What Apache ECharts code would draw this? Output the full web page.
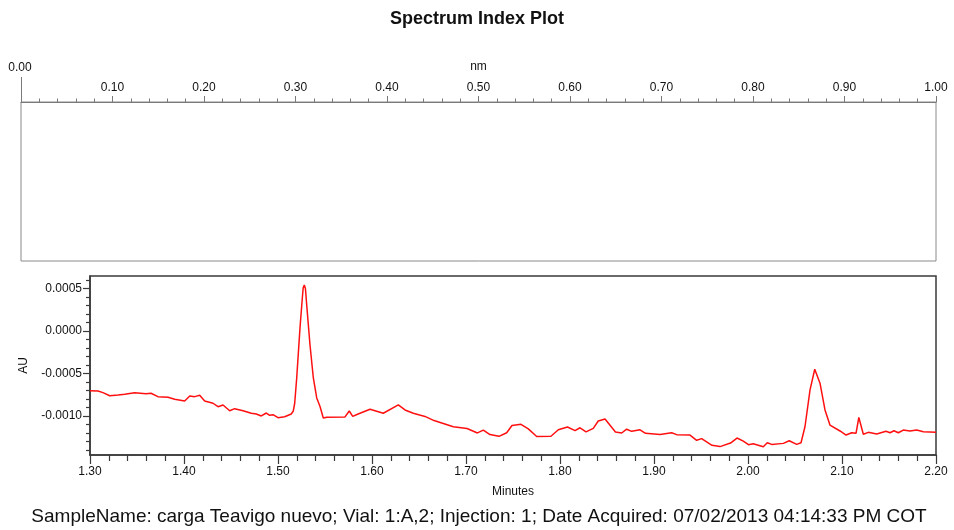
<!DOCTYPE html>
<html>
<head>
<meta charset="utf-8">
<script src="https://cdn.jsdelivr.net/npm/echarts@6/dist/echarts.min.js"></script>
<style>
html,body{margin:0;padding:0;background:#fff;}
#chart{width:954px;height:530px;}
</style>
</head>
<body>
<div id="chart"></div>
<script>
// Retention times (minutes)
const times = [1.300,1.3085,1.3138,1.3210,1.3298,1.3369,1.3476,1.3596,1.3649,1.3723,
1.3830,1.3901,1.4007,1.4061,1.4114,1.4167,1.4220,1.4309,1.4362,1.4415,
1.4486,1.4539,1.4628,1.4716,1.4769,1.4787,1.4822,1.4876,1.4912,1.4947,
1.5000,1.5071,1.5141,1.5163,1.5178,1.5199,1.5234,1.5259,1.5268,1.5280,
1.5292,1.5305,1.5340,1.5376,1.5412,1.5447,1.5482,1.5518,1.5713,1.5758,
1.5795,1.5846,1.5979,1.6120,1.6280,1.6351,1.6439,1.6564,1.6660,1.6865,
1.7011,1.7122,1.7184,1.7255,1.7351,1.7433,1.7489,1.7585,1.7663,1.7752,
1.7904,1.7982,1.8080,1.8160,1.8213,1.8277,1.8354,1.8407,1.8479,1.8590,
1.8656,1.8709,1.8763,1.8851,1.8910,1.9064,1.9188,1.9241,1.9383,1.9454,
1.9507,1.9617,1.9702,1.9814,1.9883,1.9950,2.0005,2.0056,2.0163,2.0205,
2.0252,2.0376,2.0439,2.0518,2.0564,2.0606,2.0660,2.0710,2.0766,2.0819,
2.0872,2.0979,2.1043,2.1103,2.1149,2.1179,2.1227,2.1280,2.1369,2.1468,
2.1511,2.1553,2.1599,2.1652,2.1723,2.1795,2.1865,2.2000];

// Absorbance (AU)
const au = [-0.000702,-0.000705,-0.000725,-0.000761,-0.000752,-0.000744,-0.000725,-0.000737,-0.000732,-0.000772,
-0.000780,-0.000803,-0.000823,-0.000764,-0.000772,-0.000756,-0.000823,-0.000850,-0.000891,-0.000870,
-0.000938,-0.000914,-0.000938,-0.000968,-0.000977,-0.000957,-0.001000,-0.000965,-0.000992,-0.000985,
-0.001020,-0.001009,-0.000977,-0.000941,-0.000847,-0.000552,0.000039,0.000393,0.000510,0.000543,
0.000500,0.000314,-0.000158,-0.000552,-0.000788,-0.000888,-0.001024,-0.001016,-0.001011,-0.000941,
-0.001004,-0.000979,-0.000921,-0.000968,-0.000870,-0.000929,-0.000968,-0.001005,-0.001054,-0.001127,
-0.001148,-0.001200,-0.001166,-0.001219,-0.001240,-0.001198,-0.001113,-0.001098,-0.001152,-0.001242,
-0.001239,-0.001162,-0.001130,-0.001172,-0.001139,-0.001187,-0.001146,-0.001059,-0.001036,-0.001189,
-0.001201,-0.001156,-0.001181,-0.001163,-0.001205,-0.001219,-0.001198,-0.001220,-0.001225,-0.001287,
-0.001267,-0.001346,-0.001361,-0.001319,-0.001260,-0.001296,-0.001338,-0.001328,-0.001363,-0.001316,
-0.001335,-0.001323,-0.001292,-0.001335,-0.001316,-0.001127,-0.000693,-0.000449,-0.000614,-0.000929,
-0.001107,-0.001177,-0.001225,-0.001198,-0.001205,-0.001018,-0.001216,-0.001193,-0.001213,-0.001181,
-0.001198,-0.001174,-0.001198,-0.001166,-0.001178,-0.001166,-0.001186,-0.001193];

// Tick labels / positions
const auMajorTicks = [-0.0010, -0.0005, 0.0000, 0.0005];
const auMinorTicks = [-0.0014,-0.0013,-0.0012,-0.0011,-0.0009,-0.0008,-0.0007,-0.0006,-0.0004,-0.0003,-0.0002,-0.0001,0.0001,0.0002,0.0003,0.0004,0.0006];
const auRange = [-0.00146, 0.00065];
const minuteRange = [1.30, 2.20];
const nmRange = [0.00, 1.00];

const titleText = 'Spectrum Index Plot';
const footerText = 'SampleName: carga Teavigo nuevo; Vial: 1:A,2; Injection: 1; Date Acquired: 07/02/2013 04:14:33 PM COT';

const FONT = 'Liberation Sans, Arial, sans-serif';
const chart = echarts.init(document.getElementById('chart'), null, {renderer: 'canvas'});

const points = times.map((t, i) => [t, au[i]]);

const option = {
  animation: false,
  backgroundColor: '#ffffff',
  title: [{
    text: titleText, left: 'center', top: 5,
    textStyle: {fontFamily: FONT, fontSize: 18, fontWeight: 'bold', color: '#111'}
  }],
  grid: [
    {left: 21, top: 102, width: 915, height: 159, show: true, borderColor: '#8a8a8a', borderWidth: 1, backgroundColor: 'transparent'},
    {left: 90, top: 276, width: 846, height: 179, show: true, borderColor: '#3a3a3a', borderWidth: 1.5, backgroundColor: 'transparent'}
  ],
  xAxis: [
    {
      gridIndex: 0, type: 'value', position: 'top', min: nmRange[0], max: nmRange[1], interval: 0.1,
      name: 'nm', nameLocation: 'middle', nameGap: 29,
      nameTextStyle: {fontFamily: FONT, fontSize: 12, color: '#111'},
      axisLine: {show: true, onZero: false, lineStyle: {color: '#7a7a7a', width: 1}},
      axisTick: {show: true, inside: false, length: 6, lineStyle: {color: '#7a7a7a'}},
      minorTick: {show: true, splitNumber: 5, length: 3.5, lineStyle: {color: '#7a7a7a'}},
      splitLine: {show: false},
      axisLabel: {margin: 8, fontFamily: FONT, fontSize: 12, color: '#111',
        formatter: v => (Math.abs(v) < 1e-9 ? '' : v.toFixed(2))}
    },
    {
      gridIndex: 1, type: 'value', position: 'bottom', min: minuteRange[0], max: minuteRange[1], interval: 0.1,
      name: 'Minutes', nameLocation: 'middle', nameGap: 31,
      nameTextStyle: {fontFamily: FONT, fontSize: 12, color: '#111'},
      axisLine: {show: true, onZero: false, lineStyle: {color: '#3a3a3a', width: 1.5}},
      axisTick: {show: true, inside: false, length: 9, lineStyle: {color: '#3a3a3a', width: 1.2}},
      minorTick: {show: true, splitNumber: 5, length: 6, lineStyle: {color: '#3a3a3a', width: 1.2}},
      splitLine: {show: false},
      axisLabel: {margin: 11, fontFamily: FONT, fontSize: 12, color: '#111', formatter: v => v.toFixed(2)}
    }
  ],
  yAxis: [
    {gridIndex: 0, type: 'value', min: 0, max: 1, show: false},
    {
      gridIndex: 1, type: 'value', position: 'left', min: auRange[0], max: auRange[1],
      name: 'AU', nameLocation: 'middle', nameGap: 60, nameRotate: 90,
      nameTextStyle: {fontFamily: FONT, fontSize: 12, color: '#111'},
      axisLine: {show: true, onZero: false, lineStyle: {color: '#3a3a3a', width: 1.5}},
      axisTick: {show: true, inside: false, length: 7, customValues: auMajorTicks, lineStyle: {color: '#3a3a3a', width: 1.2}},
      splitLine: {show: false},
      axisLabel: {margin: 8, fontFamily: FONT, fontSize: 12, color: '#111', customValues: auMajorTicks,
        formatter: v => v.toFixed(4)}
    },
    {
      gridIndex: 1, type: 'value', position: 'left', min: auRange[0], max: auRange[1],
      axisLine: {show: false, onZero: false},
      axisTick: {show: true, inside: false, length: 4, customValues: auMinorTicks, lineStyle: {color: '#3a3a3a', width: 1.2}},
      axisLabel: {show: false, customValues: auMinorTicks},
      splitLine: {show: false}
    }
  ],
  series: [{
    type: 'line', xAxisIndex: 1, yAxisIndex: 1, data: points,
    showSymbol: false, symbol: 'none', smooth: false,
    lineStyle: {color: '#ff1010', width: 1.5}
  }],
  graphic: [
    {type: 'line', shape: {x1: 21.5, y1: 77, x2: 21.5, y2: 102}, style: {stroke: '#7a7a7a', lineWidth: 1}},
    {type: 'text', x: 20, y: 68, style: {text: '0.00', fontFamily: FONT, fontSize: 12, fill: '#111', textAlign: 'center', textVerticalAlign: 'middle'}},
    {type: 'text', x: 479, y: 517, style: {text: footerText, fontFamily: FONT, fontSize: 19, fill: '#111', textAlign: 'center', textVerticalAlign: 'middle'}}
  ]
};
chart.setOption(option);
</script>
</body>
</html>
